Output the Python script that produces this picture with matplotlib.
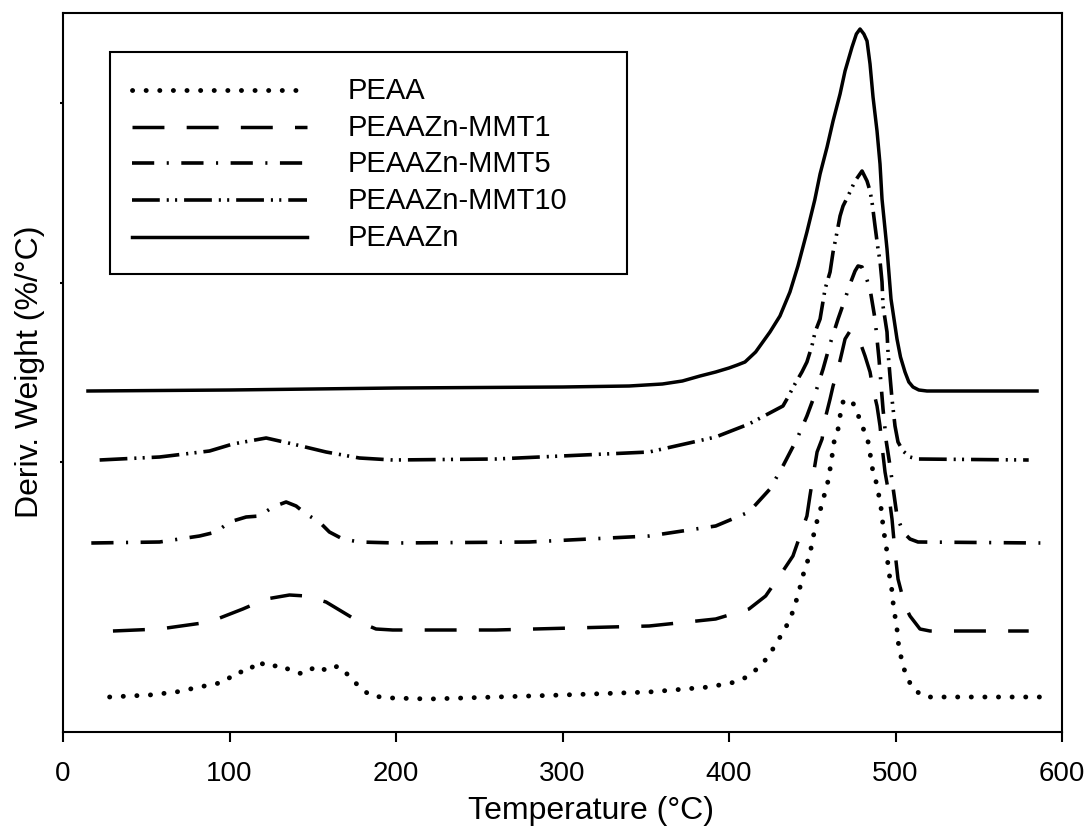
import matplotlib
matplotlib.use("Agg")
import matplotlib.pyplot as plt
from matplotlib.patches import Rectangle
from matplotlib.lines import Line2D

plt.rcParams['font.family'] = ['Liberation Sans', 'DejaVu Sans']
plt.rcParams['lines.scale_dashes'] = False

# ---- data: (temperature °C, derivative weight in offset arbitrary units) ----
peaa = [(28, 0.35), (52, 0.37), (68, 0.40), (82, 0.45), (97, 0.50), (104, 0.60), (111, 0.60),
        (117, 0.71), (123, 0.65), (131, 0.67), (138, 0.60), (145, 0.58), (152, 0.66), (159, 0.61),
        (165, 0.66), (172, 0.56), (178, 0.45), (185, 0.36), (198, 0.34), (220, 0.33), (260, 0.35),
        (300, 0.37), (352, 0.40), (388, 0.45), (404, 0.50), (412, 0.56), (418, 0.65), (424, 0.76),
        (428, 0.88), (433.0, 1.01), (436.6, 1.13), (439.6, 1.26), (441.4, 1.38), (443.8, 1.51),
        (445.6, 1.65), (448.6, 1.76), (449.8, 1.90), (451.7, 2.03), (453.5, 2.15), (455.9, 2.28),
        (457.7, 2.40), (459.5, 2.51), (460.7, 2.63), (461.9, 2.76), (463.1, 2.90), (465.5, 3.03),
        (466.7, 3.16), (468.5, 3.30), (471.5, 3.33), (473.9, 3.31), (476.9, 3.20), (479.9, 3.06),
        (482.9, 2.95), (484.7, 2.81), (485.3, 2.68), (487.7, 2.55), (489.5, 2.41), (490.7, 2.30),
        (491.9, 2.18), (492.5, 2.05), (493.7, 1.93), (494.9, 1.80), (495.5, 1.66), (496.7, 1.53),
        (497.9, 1.41), (498.5, 1.30), (499.7, 1.16), (500.9, 1.03), (501.5, 0.91), (502.7, 0.80),
        (504.5, 0.66), (506.9, 0.55), (510.5, 0.43), (517.7, 0.35), (587, 0.35)]

mmt1 = [(30, 1.01), (58, 1.03), (88, 1.10), (108, 1.23), (122, 1.33), (136, 1.37), (146, 1.36),
        (158, 1.30), (168, 1.20), (178, 1.10), (188, 1.03), (198, 1.02), (260, 1.02), (352, 1.06),
        (392, 1.13), (412, 1.23), (422, 1.36), (432.4, 1.61), (438.4, 1.76), (442.6, 1.96),
        (446.8, 2.16), (448.6, 2.36), (450.5, 2.56), (452.9, 2.80), (455.9, 2.93), (457.7, 3.13),
        (460.7, 3.33), (462.5, 3.46), (465.5, 3.63), (467.9, 3.80), (469.7, 3.93), (472.7, 4.01),
        (475.7, 3.99), (478.7, 3.90), (481.7, 3.76), (484.7, 3.60), (486.5, 3.43), (488.9, 3.26),
        (490.7, 3.06), (491.9, 2.86), (493.7, 2.60), (495.5, 2.43), (497.9, 2.13), (499.7, 1.80),
        (501.5, 1.53), (505.7, 1.26), (508.7, 1.16), (514.7, 1.03), (520.7, 1.01), (580, 1.01)]

mmt5 = [(17, 1.89), (58, 1.90), (82, 1.96), (92, 2.00), (100, 2.10), (110, 2.15), (118, 2.16),
        (126, 2.25), (134, 2.30), (140, 2.26), (146, 2.18), (154, 2.10), (160, 2.00), (168, 1.93),
        (178, 1.90), (200, 1.89), (280, 1.90), (352, 1.96), (392, 2.06), (412, 2.20), (424.6, 2.43),
        (432.4, 2.66), (440.8, 2.93), (446.8, 3.16), (451.7, 3.38), (456.5, 3.63), (460.7, 3.88),
        (465.5, 4.13), (469.7, 4.33), (472.7, 4.48), (475.7, 4.61), (477.5, 4.66), (479.9, 4.65),
        (481.7, 4.58), (484.7, 4.43), (487.7, 4.13), (490.1, 3.73), (492.5, 3.23), (494.5, 2.90),
        (496.7, 2.66), (500.9, 2.16), (504.5, 2.00), (508.7, 1.93), (513.5, 1.90), (587, 1.89)]

mmt10 = [(22, 2.72), (58, 2.75), (88, 2.81), (102, 2.88), (122, 2.94), (138, 2.88), (158, 2.80),
         (178, 2.74), (198, 2.72), (260, 2.73), (352, 2.80), (392, 2.95), (412, 3.08), (432.4, 3.26),
         (434.8, 3.33), (439.6, 3.48), (443.8, 3.60), (446.8, 3.70), (449.8, 3.86), (451.7, 4.00),
         (454.7, 4.13), (457.7, 4.43), (460.7, 4.60), (462.5, 4.80), (464.9, 5.00), (466.7, 5.16),
         (468.5, 5.26), (471.5, 5.36), (475.7, 5.51), (479.9, 5.61), (482.9, 5.51), (484.7, 5.41),
         (485.9, 5.30), (487.7, 5.06), (489.5, 4.83), (490.7, 4.71), (491.9, 4.50), (492.5, 4.26),
         (494.9, 4.00), (495.5, 3.80), (496.7, 3.56), (497.9, 3.33), (499.7, 3.06), (501.5, 2.90),
         (504.5, 2.81), (508.7, 2.75), (512.9, 2.73), (580, 2.72)]

peaazn = [(15, 3.41), (100, 3.42), (200, 3.44), (300, 3.45), (340, 3.46), (360, 3.48),
          (372, 3.51), (382.6, 3.56), (392, 3.60), (400, 3.64), (405, 3.67), (409.6, 3.70),
          (416, 3.80), (424.6, 4.00), (430.6, 4.16), (436.6, 4.40), (441.4, 4.66),
          (446.8, 5.00), (451.5, 5.32), (454.7, 5.58), (458.9, 5.85), (462.5, 6.11), (466.7, 6.38),
          (469.7, 6.61), (473.9, 6.85), (476.5, 6.98), (478.7, 7.03), (481.0, 6.98), (482.9, 6.91),
          (484.7, 6.68), (486.5, 6.35), (488.9, 6.01), (490.7, 5.68), (491.9, 5.33), (494.9, 4.83),
          (497.3, 4.33), (500.9, 3.93), (503.0, 3.75), (505.7, 3.60), (508.0, 3.50), (510.5, 3.45),
          (514.0, 3.42), (518.9, 3.41), (585, 3.41)]

labels = ['PEAA', 'PEAAZn-MMT1', 'PEAAZn-MMT5', 'PEAAZn-MMT10', 'PEAAZn']
x_ticks = [0, 100, 200, 300, 400, 500, 600]
y_ticks = [2.70, 4.49, 6.29]

# ---- styles ----
styles = [
    dict(linestyle=(0, (0.1, 9.7)), linewidth=3.5, dash_capstyle='round'),
    dict(linestyle=(0, (23, 16)), linewidth=2.5),
    dict(linestyle=(0, (16, 9, 1.5, 9)), linewidth=2.6),
    dict(linestyle=(0, (20, 5, 1.5, 4.5, 1.5, 5)), linewidth=2.6),
    dict(linestyle='-', linewidth=2.5),
]

fig = plt.figure(figsize=(10.9, 8.28), dpi=100)
ax = fig.add_axes([63/1090, 1 - 733/828, (1062-63)/1090, (733-14)/828])

series = [peaa, mmt1, mmt5, mmt10, peaazn]
for data, st in zip(series, styles):
    T = [p[0] for p in data]
    y = [p[1] for p in data]
    ax.plot(T, y, color='black', solid_joinstyle='round', **st)

ax.set_xlim(0, 600)
ax.set_ylim(0, 7.19)
ax.set_xticks(x_ticks)
ax.set_yticks(y_ticks)
ax.set_yticklabels([])
ax.tick_params(axis='x', direction='out', length=7, width=1.5, labelsize=20, pad=13)
ax.tick_params(axis='y', direction='out', length=2.5, width=1.5)
for s in ax.spines.values():
    s.set_linewidth(1.5)
ax.set_xlabel('Temperature (°C)', fontsize=23)
ax.set_ylabel('Deriv. Weight (%/°C)', fontsize=23)
ax.xaxis.set_label_coords((591 - 63) / 999, (733 - 796) / 719)
ax.yaxis.set_label_coords((45 - 63) / 999, 0.502)

# ---- legend drawn as a boxed key ----
W, H = 1090, 828
box = Rectangle((110/W, 1 - 275/H), (627-110)/W, (275-53)/H, transform=fig.transFigure,
                fill=False, edgecolor='black', linewidth=1.5)
fig.add_artist(box)
row_y = [91, 128, 164, 201, 238]
for lab, st, ry in zip(labels, styles, row_y):
    fig.add_artist(Line2D([132/W, 307/W], [1 - ry/H, 1 - ry/H], transform=fig.transFigure,
                          color='black', **st))
    fig.text(348/W, 1 - ry/H, lab, fontsize=21, va='center', ha='left')

fig.savefig('out.png', dpi=100)
